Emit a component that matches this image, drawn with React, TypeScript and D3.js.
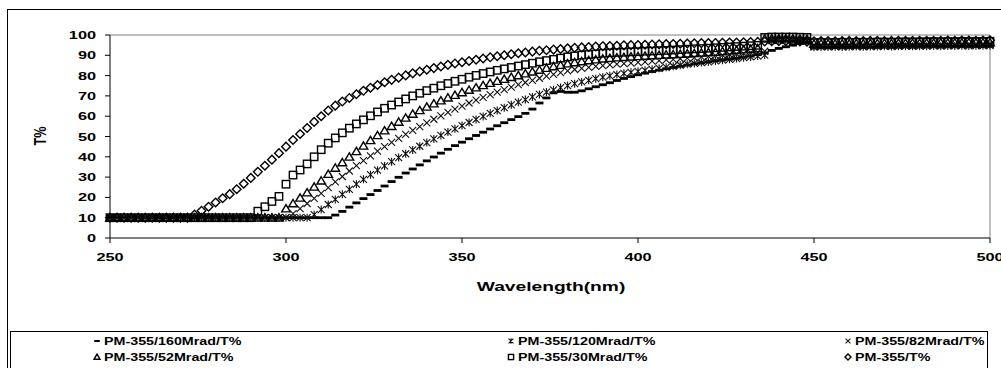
import React from 'react';
import * as d3 from 'd3';

// Sampling grid (nm)
const WAVELENGTHS = [
  250, 252, 254, 256, 258, 260, 262, 264, 266, 268,
  270, 272, 274, 276, 278, 280, 282, 284, 286, 288,
  290, 292, 294, 296, 298, 300, 302, 304, 306, 308,
  310, 312, 314, 316, 318, 320, 322, 324, 326, 328,
  330, 332, 334, 336, 338, 340, 342, 344, 346, 348,
  350, 352, 354, 356, 358, 360, 362, 364, 366, 368,
  370, 372, 374, 376, 378, 380, 382, 384, 386, 388,
  390, 392, 394, 396, 398, 400, 402, 404, 406, 408,
  410, 412, 414, 416, 418, 420, 422, 424, 426, 428,
  430, 432, 434, 436, 438, 440, 442, 444, 446, 448,
  450, 452, 454, 456, 458, 460, 462, 464, 466, 468,
  470, 472, 474, 476, 478, 480, 482, 484, 486, 488,
  490, 492, 494, 496, 498, 500,
];

const X_TICKS = [250, 300, 350, 400, 450, 500];
const Y_TICKS = [0, 10, 20, 30, 40, 50, 60, 70, 80, 90, 100];

// Transmittance (%) for each dose
const T_160MRAD = [
  10, 10, 10, 10, 10, 10, 10, 10, 10, 10,
  10, 10, 10, 10, 10, 10, 10, 10, 10, 10,
  10, 10, 10, 10, 10, 10, 10, 10, 10, 10,
  10, 10, 11.3, 13.1, 15.2, 17.3, 19.4, 21.4, 23.4, 25.6,
  27.8, 29.9, 32, 34, 36, 38, 39.9, 41.8, 43.7, 45.5,
  47.2, 48.9, 50.5, 52.1, 53.7, 55.3, 56.8, 58.3, 59.8, 61.4,
  63.5, 66.5, 69, 71.5, 72.2, 71.8, 71.8, 72.5, 73.5, 74.5,
  75.5, 76.5, 77.6, 78.6, 79.5, 80.4, 81.2, 82, 82.7, 83.4,
  84, 84.6, 85.2, 85.8, 86.3, 86.8, 87.3, 87.7, 88.1, 88.5,
  89, 89.6, 90.3, 91.2, 92.4, 93.4, 94.2, 95, 95.8, 96.2,
  93.6, 93.7, 93.7, 93.8, 93.7, 93.8, 93.9, 93.8, 93.9, 93.9,
  94, 93.9, 94, 94.1, 94, 94.1, 94.1, 94.2, 94.1, 94.2,
  94.2, 94.3, 94.2, 94.3, 94.3, 94.4,
];

const T_120MRAD = [
  10, 10, 10, 10, 10, 10, 10, 10, 10, 10,
  10, 10, 10, 10, 10, 10, 10, 10, 10, 10,
  10, 10, 10, 10, 10, 10, 10, 10, 10, 11.5,
  14, 16.5, 19, 21.5, 24, 26.5, 28.9, 31.2, 33.4, 35.5,
  37.6, 39.6, 41.5, 43.4, 45.2, 47, 48.8, 50.5, 52.2, 53.8,
  55.4, 56.9, 58.4, 59.9, 61.4, 62.8, 64.2, 65.6, 66.9, 68.2,
  69.5, 70.7, 71.9, 73, 74.1, 75.1, 76, 76.9, 77.7, 78.5,
  79.2, 79.9, 80.5, 81.1, 81.6, 82.1, 82.6, 83.1, 83.6, 84.1,
  84.6, 85.1, 85.6, 86, 86.4, 86.8, 87.2, 87.6, 88, 88.4,
  88.8, 89.2, 89.6, 90.1, 97.2, 97.4, 97.4, 97.3, 97.2, 97.1,
  94, 94.1, 94.1, 94.2, 94.1, 94.2, 94.3, 94.2, 94.3, 94.3,
  94.4, 94.3, 94.4, 94.5, 94.4, 94.5, 94.5, 94.6, 94.5, 94.6,
  94.6, 94.7, 94.6, 94.7, 94.7, 94.8,
];

const T_82MRAD = [
  10, 10, 10, 10, 10, 10, 10, 10, 10, 10,
  10, 10, 10, 10, 10, 10, 10, 10, 10, 10,
  10, 10, 10, 10, 10, 10, 12, 14.5, 17, 19.5,
  22, 24.8, 27.6, 30.3, 33, 35.6, 38.1, 40.5, 42.8, 45,
  47.1, 49.1, 51.1, 53, 54.9, 56.7, 58.5, 60.2, 61.9, 63.5,
  65, 66.5, 67.9, 69.3, 70.6, 71.9, 73.1, 74.3, 75.5, 76.6,
  77.7, 78.7, 79.7, 80.6, 81.5, 82.3, 83, 83.6, 84.1, 84.5,
  84.9, 85.3, 85.6, 85.9, 86.2, 86.5, 86.8, 87.1, 87.4, 87.7,
  88, 88.3, 88.6, 88.9, 89.2, 89.5, 89.8, 90.1, 90.4, 90.7,
  91, 91.3, 91.6, 92, 97.6, 97.8, 97.8, 97.7, 97.6, 97.5,
  94.5, 94.6, 94.6, 94.7, 94.6, 94.7, 94.8, 94.7, 94.8, 94.8,
  94.9, 94.8, 94.9, 95, 94.9, 95, 95, 95.1, 95, 95.1,
  95.1, 95.2, 95.1, 95.2, 95.2, 95.3,
];

const T_52MRAD = [
  10, 10, 10, 10, 10, 10, 10, 10, 10, 10,
  10, 10, 10, 10, 10, 10, 10, 10, 10, 10,
  10, 10, 10, 10, 10, 14.5, 17, 19.8, 22.4, 25.2,
  28.2, 31.5, 34.5, 37.2, 40, 42.7, 45.4, 48.1, 50.6, 52.9,
  55.1, 57.2, 59.2, 61.1, 62.9, 64.6, 66.2, 67.7, 69.1, 70.4,
  71.7, 72.9, 74.1, 75.2, 76.3, 77.3, 78.3, 79.2, 80.1, 81,
  81.9, 82.8, 83.7, 84.5, 85.2, 85.9, 86.5, 87, 87.5, 87.9,
  88.3, 88.6, 88.9, 89.1, 89.3, 89.5, 89.7, 89.9, 90.1, 90.3,
  90.4, 90.6, 90.8, 91, 91.2, 91.4, 91.6, 91.9, 92.2, 92.5,
  92.8, 93.1, 93.4, 98.2, 98.3, 98.3, 98.3, 98.2, 98.1, 98,
  95.6, 95.7, 95.7, 95.8, 95.7, 95.8, 95.9, 95.8, 95.9, 95.9,
  96, 95.9, 96, 96, 96.1, 96, 96.1, 96.1, 96.2, 96.1,
  96.2, 96.2, 96.3, 96.2, 96.3, 96.3,
];

const T_30MRAD = [
  10, 10, 10, 10, 10, 10, 10, 10, 10, 10,
  10, 10, 10, 10, 10, 10, 10, 10, 10, 10,
  10, 13.2, 15.4, 18, 20.5, 26.5, 31, 33.5, 36.5, 40,
  43.5, 46.7, 49.3, 51.8, 54.1, 56.2, 58.2, 60.2, 62.1, 63.9,
  65.5, 67, 68.5, 70, 71.3, 72.6, 73.8, 75, 76.1, 77.2,
  78.2, 79.2, 80.1, 81, 81.8, 82.6, 83.3, 84, 84.7, 85.4,
  86.1, 86.8, 87.4, 88, 88.6, 89.2, 89.7, 90.1, 90.4, 90.7,
  91, 91.2, 91.4, 91.5, 91.7, 91.8, 92, 92.1, 92.3, 92.4,
  92.6, 92.8, 93, 93.2, 93.3, 93.5, 93.7, 93.9, 94.1, 94.3,
  94.5, 94.7, 94.9, 98.8, 99, 99, 99, 99, 98.9, 98.8,
  96.2, 96.3, 96.2, 96.3, 96.4, 96.3, 96.4, 96.4, 96.3, 96.5,
  96.5, 96.4, 96.5, 96.6, 96.5, 96.6, 96.6, 96.7, 96.6, 96.7,
  96.7, 96.8, 96.7, 96.8, 96.8, 96.9,
];

const T_0MRAD = [
  10, 10, 10, 10, 10, 10, 10, 10, 10, 10,
  10, 10, 11.5, 13.4, 15.4, 17.5, 19.6, 21.6, 24, 26.7,
  29.6, 32.6, 35.6, 38.6, 41.8, 45, 48.3, 51.2, 54.2, 57.2,
  60, 62.8, 65.2, 67.2, 69, 70.8, 72.5, 74, 75.4, 76.7,
  77.9, 79, 80.1, 81.1, 82, 82.9, 83.7, 84.5, 85.3, 86,
  86.6, 87.2, 87.8, 88.4, 89, 89.5, 90, 90.5, 91, 91.4,
  91.8, 92.2, 92.5, 92.8, 93.1, 93.4, 93.7, 93.9, 94.1, 94.3,
  94.5, 94.6, 94.7, 94.9, 95, 95.1, 95.2, 95.3, 95.4, 95.5,
  95.6, 95.7, 95.8, 95.9, 96, 96, 96.1, 96.2, 96.3, 96.3,
  96.4, 96.5, 96.6, 96.8, 96.9, 97, 97, 96.9, 96.8, 96.7,
  96.9, 97, 97, 96.9, 97, 97.1, 97, 97, 97.1, 97.1,
  97, 97.1, 97.2, 97.1, 97.1, 97.2, 97.2, 97.1, 97.2, 97.3,
  97.2, 97.3, 97.3, 97.2, 97.3, 97.4,
];

const SERIES_NAMES = [
  'PM-355/160Mrad/T%',
  'PM-355/120Mrad/T%',
  'PM-355/82Mrad/T%',
  'PM-355/52Mrad/T%',
  'PM-355/30Mrad/T%',
  'PM-355/T%',
];

type MarkerKind = 'dash' | 'star' | 'cross' | 'triangle' | 'square' | 'diamond';

const SERIES: { name: string; values: number[]; marker: MarkerKind }[] = [
  { name: SERIES_NAMES[0], values: T_160MRAD, marker: 'dash' },
  { name: SERIES_NAMES[1], values: T_120MRAD, marker: 'star' },
  { name: SERIES_NAMES[2], values: T_82MRAD, marker: 'cross' },
  { name: SERIES_NAMES[3], values: T_52MRAD, marker: 'triangle' },
  { name: SERIES_NAMES[4], values: T_30MRAD, marker: 'square' },
  { name: SERIES_NAMES[5], values: T_0MRAD, marker: 'diamond' },
];

const WIDTH = 1001;
const HEIGHT = 368;
const FONT = 'Arial, "Liberation Sans", Helvetica, sans-serif';

function Marker({ kind, cx, cy, s = 1 }: { kind: MarkerKind; cx: number; cy: number; s?: number }) {
  const ink = '#000';
  switch (kind) {
    case 'dash':
      return <rect x={cx - 4 * s} y={cy - 1.4 * s} width={8 * s} height={2.8 * s} fill={ink} />;
    case 'star':
      return (
        <path
          d={`M${cx - 3.5 * s},${cy - 3.5 * s}L${cx + 3.5 * s},${cy + 3.5 * s}M${cx - 3.5 * s},${cy + 3.5 * s}L${cx + 3.5 * s},${cy - 3.5 * s}M${cx},${cy - 4 * s}L${cx},${cy + 4 * s}`}
          stroke="#111"
          strokeWidth={1.1}
          fill="none"
        />
      );
    case 'cross':
      return (
        <path
          d={`M${cx - 3.5 * s},${cy - 3.5 * s}L${cx + 3.5 * s},${cy + 3.5 * s}M${cx + 3.5 * s},${cy - 3.5 * s}L${cx - 3.5 * s},${cy + 3.5 * s}`}
          stroke="#111"
          strokeWidth={1.1}
          fill="none"
        />
      );
    case 'triangle':
      return (
        <path
          d={`M${cx},${cy - 4 * s}L${cx + 4.3 * s},${cy + 3.3 * s}L${cx - 4.3 * s},${cy + 3.3 * s}Z`}
          stroke={ink}
          strokeWidth={1.4}
          fill="none"
        />
      );
    case 'square':
      return (
        <rect
          x={cx - 3.7 * s}
          y={cy - 3.7 * s}
          width={7.4 * s}
          height={7.4 * s}
          stroke={ink}
          strokeWidth={1.4}
          fill="none"
        />
      );
    case 'diamond':
    default:
      return (
        <path
          d={`M${cx},${cy - 4.3 * s}L${cx + 4.3 * s},${cy}L${cx},${cy + 4.3 * s}L${cx - 4.3 * s},${cy}Z`}
          stroke={ink}
          strokeWidth={1.4}
          fill="none"
        />
      );
  }
}

function Label({
  x,
  y,
  children,
  anchor = 'start',
  size = 11,
  stretch = 1.42,
}: {
  x: number;
  y: number;
  children: React.ReactNode;
  anchor?: 'start' | 'middle' | 'end';
  size?: number;
  stretch?: number;
}) {
  return (
    <text
      transform={`translate(${x},${y}) scale(${stretch},1)`}
      textAnchor={anchor}
      fontFamily={FONT}
      fontWeight="bold"
      fontSize={size}
      fill="#000"
    >
      {children}
    </text>
  );
}

export default function App() {
  const plot = { left: 110, right: 990, top: 35, bottom: 238 };
  const x = d3.scaleLinear().domain([250, 500]).range([plot.left, plot.right]);
  const y = d3.scaleLinear().domain([0, 100]).range([plot.bottom, plot.top]);

  const legend = { left: 10, top: 331, right: 987, bottom: 380 };
  const legendCols = [97, 511, 848];
  const legendRows = [341, 357];

  return (
    <svg
      width={WIDTH}
      height={HEIGHT}
      style={{ position: 'absolute', left: 0, top: 0, background: '#fff' }}
    >
      <rect x={0} y={0} width={WIDTH} height={HEIGHT} fill="#fff" />
      {/* chart frame */}
      <rect x={7.5} y={9.5} width={1010} height={380} fill="none" stroke="#000" strokeWidth={1} />

      {/* plot area borders */}
      <line x1={plot.left} x2={plot.right} y1={plot.top} y2={plot.top} stroke="#808080" strokeWidth={1} />
      <line x1={plot.right} x2={plot.right} y1={plot.top} y2={plot.bottom} stroke="#808080" strokeWidth={1} />

      {/* data markers */}
      <g>
        {SERIES.map((s) => (
          <g key={s.name}>
            {s.values.map((v, i) => (
              <Marker key={i} kind={s.marker} cx={x(WAVELENGTHS[i])} cy={y(v)} />
            ))}
          </g>
        ))}
      </g>

      {/* y axis */}
      <line x1={plot.left} x2={plot.left} y1={plot.top} y2={plot.bottom} stroke="#000" strokeWidth={1} />
      {Y_TICKS.map((t) => (
        <g key={t}>
          <line x1={plot.left - 5} x2={plot.left} y1={y(t)} y2={y(t)} stroke="#000" strokeWidth={1} />
          <Label x={96} y={y(t) + 4} anchor="end" stretch={1.48}>
            {t}
          </Label>
        </g>
      ))}

      {/* x axis */}
      <line x1={plot.left} x2={plot.right} y1={plot.bottom} y2={plot.bottom} stroke="#000" strokeWidth={1} />
      {X_TICKS.map((t) => (
        <g key={t}>
          <line x1={x(t)} x2={x(t)} y1={plot.bottom} y2={plot.bottom + 5} stroke="#000" strokeWidth={1} />
          <Label x={x(t)} y={261} anchor="middle" stretch={1.48}>
            {t}
          </Label>
        </g>
      ))}

      {/* axis titles */}
      <Label x={551} y={291} anchor="middle" size={12} stretch={1.6}>
        Wavelength(nm)
      </Label>
      <text
        transform="translate(46,136) rotate(-90) scale(1.15,1.45)"
        textAnchor="middle"
        fontFamily={FONT}
        fontWeight="bold"
        fontSize={11}
      >
        T%
      </text>

      {/* legend */}
      <rect
        x={legend.left + 0.5}
        y={legend.top + 0.5}
        width={legend.right - legend.left}
        height={legend.bottom - legend.top}
        fill="#fff"
        stroke="#000"
        strokeWidth={1}
      />
      {SERIES.map((s, i) => {
        const col = legendCols[i % 3];
        const row = legendRows[Math.floor(i / 3)];
        return (
          <g key={s.name}>
            <Marker kind={s.marker} cx={col} cy={row} s={0.7} />
            <Label x={col + 7} y={row + 4} stretch={1.3}>
              {s.name}
            </Label>
          </g>
        );
      })}
    </svg>
  );
}
